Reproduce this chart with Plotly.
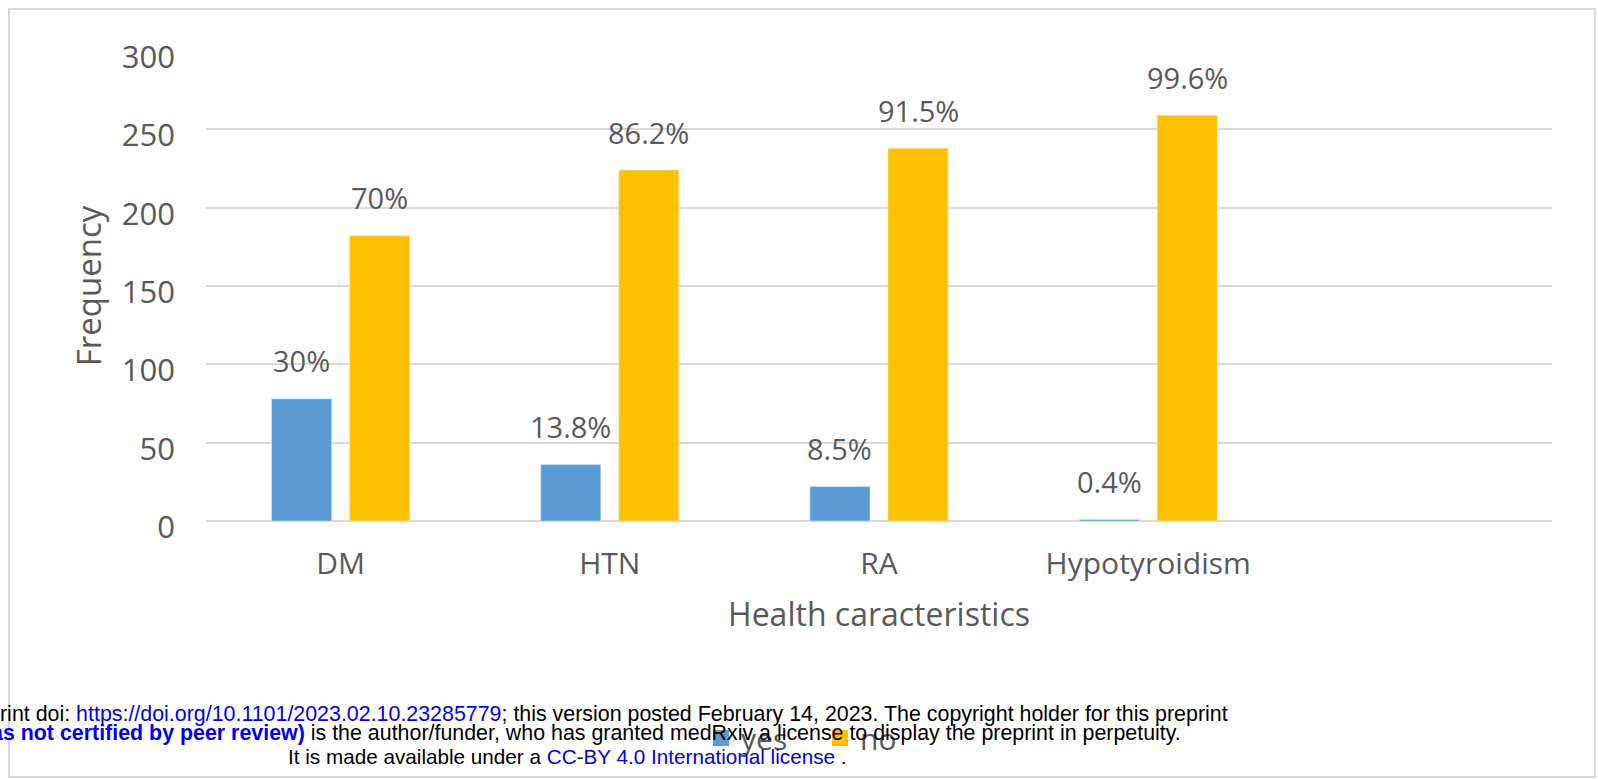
import plotly.graph_objects as go

# ---------------- data ----------------
categories = ["DM", "HTN", "RA", "Hypotyroidism"]
series_names = ["yes", "no"]
yes_counts = [78, 36, 22, 1]
no_counts = [182, 224, 238, 259]
yes_labels = ["30%", "13.8%", "8.5%", "0.4%"]
no_labels = ["70%", "86.2%", "91.5%", "99.6%"]
y_ticks = [0, 50, 100, 150, 200, 250, 300]
x_title = "Health caracteristics"
y_title = "Frequency"

# ---------------- style ----------------
W, H = 1598, 779
L, R, T, B = 206, 1552, 51, 521          # plot area in pixels
BLUE, GOLD = "#5B9BD5", "#FFC000"
GRAY_TXT = "#595959"
GRID = "#D9D9D9"
FONT = "Open Sans"
BARGAP = 0.42
BARGROUPGAP = 0.23


def px_x(x):
    return (x - L) / (R - L)


def px_y(y):
    return (B - y) / (B - T)


fig = go.Figure()
for name, vals, col in ((series_names[0], yes_counts, BLUE),
                        (series_names[1], no_counts, GOLD)):
    fig.add_trace(go.Bar(name=name, x=categories, y=vals, legendgroup=name,
                         showlegend=False, marker=dict(color=col),
                         hoverinfo="x+y"))
# legend entries with larger square keys (as in the reference)
for name, col in ((series_names[0], BLUE), (series_names[1], GOLD)):
    fig.add_trace(go.Scatter(name=name, x=[None], y=[None], mode="markers",
                             legendgroup=name, showlegend=True,
                             marker=dict(symbol="square", size=16, color=col),
                             hoverinfo="skip"))

# data labels above bars (positions follow the bar layout)
slot = (1 - BARGAP) / 2
annotations = []
for i, cat in enumerate(categories):
    for off, val, lab in ((-slot / 2, yes_counts[i], yes_labels[i]),
                          (slot / 2, no_counts[i], no_labels[i])):
        annotations.append(dict(x=i + off, y=val, xref="x", yref="y",
                                text=lab, showarrow=False, yanchor="middle",
                                yshift=38,
                                font=dict(family=FONT, size=29, color=GRAY_TXT)))

# medRxiv stamp text
STAMP = "Liberation Sans"
annotations += [
    dict(xref="paper", yref="paper", x=px_x(1230), y=px_y(714),
         xanchor="right", yanchor="middle", showarrow=False,
         text="rint doi: <span style='color:#0000EE'>https://doi.org/10.1101/2023.02.10.23285779</span>; "
              "this version posted February 14, 2023. The copyright holder for this preprint",
         font=dict(family=STAMP, size=21.4, color="#000000")),
    dict(xref="paper", yref="paper", x=px_x(1183), y=px_y(733),
         xanchor="right", yanchor="middle", showarrow=False,
         text="<b><span style='color:#0000EE'>as not certified by peer review)</span></b> "
              "is the author/funder, who has granted medRxiv a license to display the preprint in perpetuity.",
         font=dict(family=STAMP, size=21.4, color="#000000")),
    dict(xref="paper", yref="paper", x=px_x(286), y=px_y(756),
         xanchor="left", yanchor="middle", showarrow=False,
         text="It is made available under a <span style='color:#0000EE'>CC-BY 4.0 International license</span> .",
         font=dict(family=STAMP, size=20.7, color="#000000")),
]

# outer chart border
shapes = [dict(type="rect", xref="paper", yref="paper",
               x0=px_x(9), x1=px_x(1595), y0=px_y(777), y1=px_y(9),
               line=dict(color="#D9D9D9", width=2), layer="below")]

fig.update_layout(
    width=W, height=H,
    margin=dict(l=L, r=W - R, t=T, b=H - B, pad=0),
    paper_bgcolor="white", plot_bgcolor="white",
    barmode="group", bargap=BARGAP, bargroupgap=BARGROUPGAP,
    font=dict(family=FONT, color=GRAY_TXT),
    showlegend=True,
    legend=dict(orientation="h", x=px_x(701), y=px_y(738),
                xanchor="left", yanchor="middle",
                entrywidth=74, entrywidthmode="pixels",
                itemsizing="trace",
                font=dict(family=FONT, size=30, color=GRAY_TXT),
                bgcolor="rgba(0,0,0,0)"),
    annotations=annotations,
    shapes=shapes,
    xaxis=dict(type="category", range=[-0.5, 4.5], showgrid=False,
               showline=False, ticks="", ticklabelstandoff=22,
               tickfont=dict(family=FONT, size=30, color=GRAY_TXT),
               title=dict(text=x_title, standoff=21,
                          font=dict(family=FONT, size=32, color=GRAY_TXT))),
    yaxis=dict(range=[0, 300], tickvals=y_ticks, showgrid=True,
               gridcolor=GRID, gridwidth=2, zeroline=True,
               zerolinecolor=GRID, zerolinewidth=2, showline=False,
               ticks="", ticklabelstandoff=30, ticklabelshift=6,
               tickfont=dict(family=FONT, size=31, color=GRAY_TXT),
               title=dict(text=y_title, standoff=10,
                          font=dict(family=FONT, size=33, color=GRAY_TXT))),
)

fig.write_html("out.html", config={"displayModeBar": False},
               post_script="document.body.style.margin='0';document.body.style.overflow='hidden';")
